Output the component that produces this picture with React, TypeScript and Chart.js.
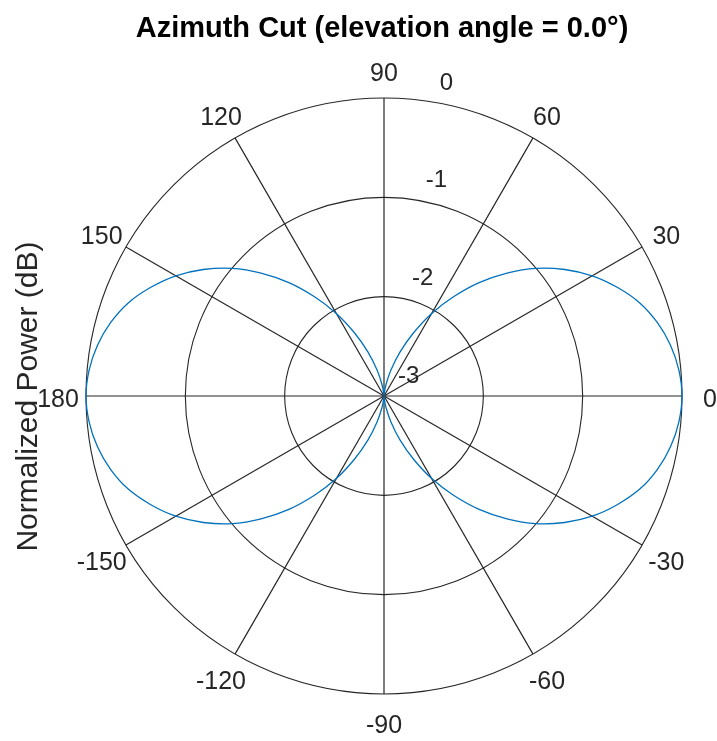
import React, { useEffect, useRef } from "react";
import { Chart, registerables } from "chart.js";

Chart.register(...registerables);

const TITLE = "Azimuth Cut (elevation angle = 0.0°)";
const Y_LABEL = "Normalized Power (dB)";

// Azimuth angles (degrees), listed clockwise from 180 so the radar walks round the circle
const AZIMUTH_DEG = [
  180, 175, 170, 165, 160, 155, 150, 145, 140, 135, 130, 125,
  120, 115, 110, 105, 100, 95, 90, 85, 80, 75, 70, 65,
  60, 55, 50, 45, 40, 35, 30, 25, 20, 15, 10, 5,
  0, -5, -10, -15, -20, -25, -30, -35, -40, -45, -50, -55,
  -60, -65, -70, -75, -80, -85, -90, -95, -100, -105, -110, -115,
  -120, -125, -130, -135, -140, -145, -150, -155, -160, -165, -170, -175,
];

const POWER_DB = [
  0.0, -0.02, -0.07, -0.15, -0.26, -0.41, -0.58, -0.78, -1.0, -1.25, -1.51, -1.78,
  -2.04, -2.3, -2.53, -2.73, -2.88, -2.98, -3.0, -2.98, -2.88, -2.73, -2.53, -2.3,
  -2.04, -1.78, -1.51, -1.25, -1.0, -0.78, -0.58, -0.41, -0.26, -0.15, -0.07, -0.02,
  0.0, -0.02, -0.07, -0.15, -0.26, -0.41, -0.58, -0.78, -1.0, -1.25, -1.51, -1.78,
  -2.04, -2.3, -2.53, -2.73, -2.88, -2.98, -3.0, -2.98, -2.88, -2.73, -2.53, -2.3,
  -2.04, -1.78, -1.51, -1.25, -1.0, -0.78, -0.58, -0.41, -0.26, -0.15, -0.07, -0.02,
];

const MAG_TICKS = [-3, -2, -1, 0];
const MAG_MIN = -3;
const MAG_MAX = 0;
const ANGLE_TICK_STEP = 30;
const MAG_LABEL_AZIMUTH = 80;

const FONT = "'Liberation Sans', Arial, Helvetica, sans-serif";
const GRID_COLOR = "#262626";
const TEXT_COLOR = "#262626";
const LINE_COLOR = "#0072BD";

export default function App() {
  const ref = useRef<HTMLCanvasElement | null>(null);

  useEffect(() => {
    const canvas = ref.current;
    if (!canvas) return;

    const overlay = {
      id: "matlabOverlay",
      afterDraw(chart: any) {
        const ctx: CanvasRenderingContext2D = chart.ctx;
        const scale = chart.scales.r;
        const R = scale.drawingArea;
        ctx.save();
        ctx.fillStyle = TEXT_COLOR;

        // angle labels
        ctx.font = `25px ${FONT}`;
        ctx.textAlign = "center";
        ctx.textBaseline = "middle";
        AZIMUTH_DEG.forEach((a, i) => {
          if (a % ANGLE_TICK_STEP !== 0) return;
          const p = scale.getPointPosition(i, R + 28);
          ctx.fillText(String(a), p.x, p.y + 4);
        });

        // magnitude labels
        ctx.font = `24px ${FONT}`;
        ctx.textAlign = "left";
        ctx.textBaseline = "alphabetic";
        const li = AZIMUTH_DEG.indexOf(MAG_LABEL_AZIMUTH);
        MAG_TICKS.forEach((v) => {
          const d = scale.getDistanceFromCenterForValue(v);
          const p = scale.getPointPosition(li, d);
          ctx.fillText(String(v), p.x + 14 - (10 * d) / R, p.y - 13);
        });

        // title
        ctx.font = `bold 29px ${FONT}`;
        ctx.textAlign = "center";
        ctx.fillStyle = "#000000";
        ctx.fillText(TITLE, 382, 37);

        // y label
        ctx.fillStyle = TEXT_COLOR;
        ctx.font = `30px ${FONT}`;
        ctx.translate(37, 396.5);
        ctx.rotate(-Math.PI / 2);
        ctx.textAlign = "center";
        ctx.fillText(Y_LABEL, 0, 0);
        ctx.restore();
      },
    };

    const isMajor = (c: any) => AZIMUTH_DEG[c.index] % ANGLE_TICK_STEP === 0;

    const chart = new Chart(canvas, {
      type: "radar",
      data: {
        labels: AZIMUTH_DEG.map(String),
        datasets: [
          {
            data: POWER_DB,
            borderColor: LINE_COLOR,
            borderWidth: 1.3,
            pointRadius: 0,
            pointHoverRadius: 0,
            fill: false,
            tension: 0.3,
          },
        ],
      },
      options: {
        responsive: false,
        animation: false,
        devicePixelRatio: 1,
        layout: { padding: { left: 86, right: 35, top: 98, bottom: 47 } },
        plugins: {
          legend: { display: false },
          tooltip: { enabled: false },
          title: { display: false },
        },
        scales: {
          r: {
            min: MAG_MIN,
            max: MAG_MAX,
            startAngle: 270,
            ticks: { display: false, stepSize: 1 },
            pointLabels: { display: false },
            grid: { circular: true, color: GRID_COLOR, lineWidth: 1.1 },
            angleLines: {
              display: true,
              color: (c: any) => (isMajor(c) ? GRID_COLOR : "rgba(0,0,0,0)"),
              lineWidth: (c: any) => (isMajor(c) ? 1.2 : 0),
            },
          },
        },
      } as any,
      plugins: [overlay],
    });

    return () => chart.destroy();
  }, []);

  return (
    <canvas
      ref={ref}
      width={717}
      height={741}
      style={{ position: "fixed", left: 0, top: 0, width: 717, height: 741, background: "#fff" }}
    />
  );
}
